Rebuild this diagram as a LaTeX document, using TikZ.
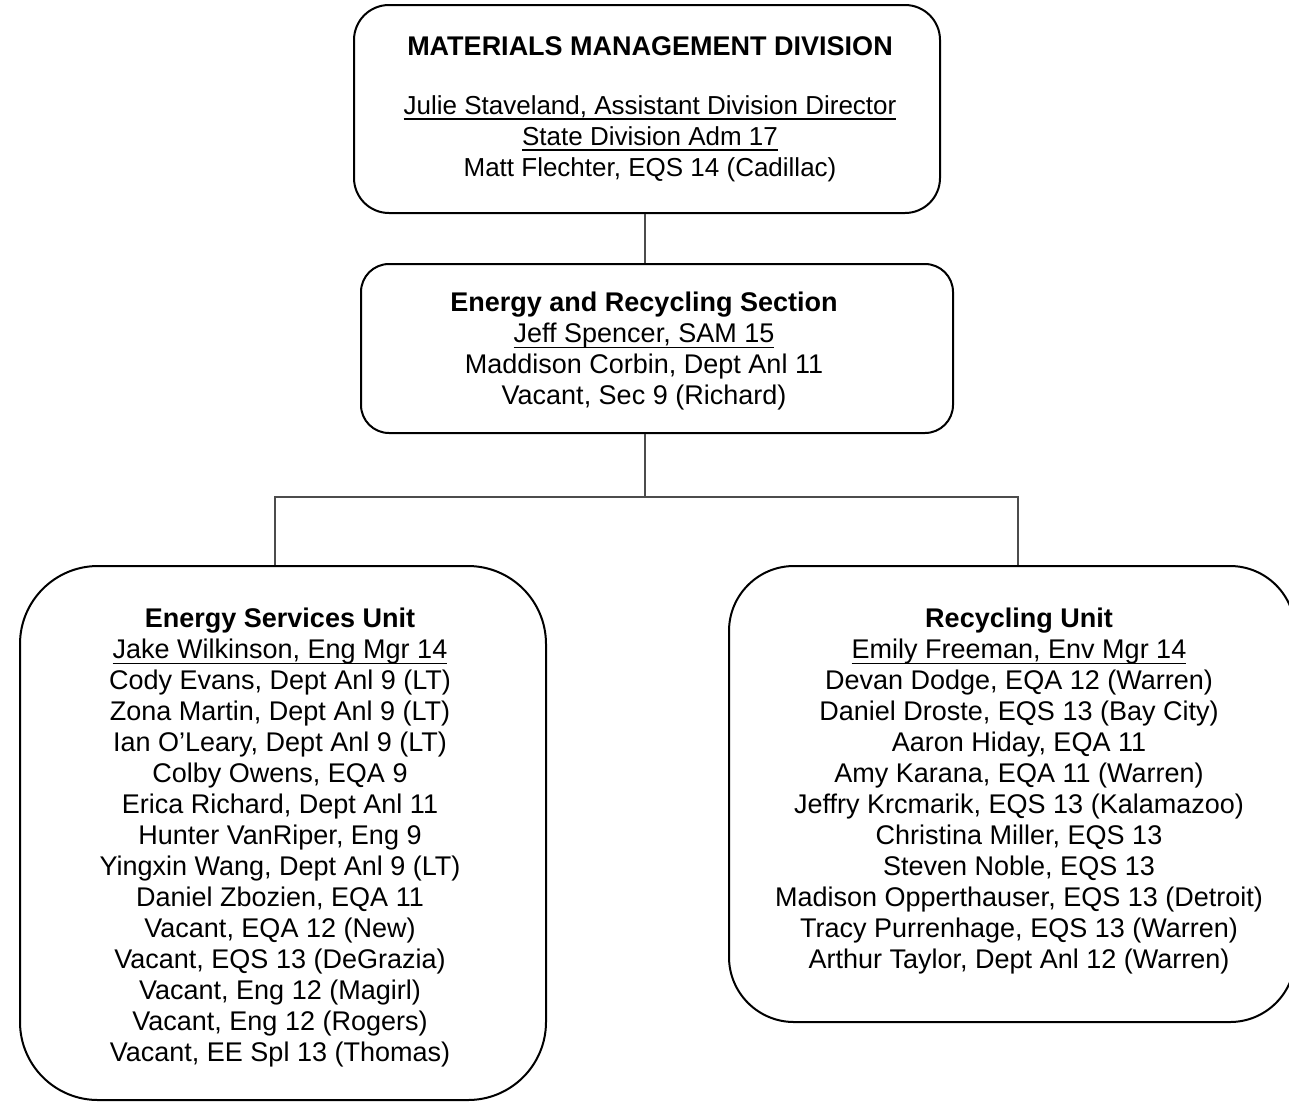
\documentclass[tikz,border=0pt]{standalone}
\usepackage{fontspec}
\setmainfont{Liberation Sans}
\newsavebox\ubox
\newcommand{\uname}[1]{\sbox\ubox{#1}\rlap{\rule[-5.5pt]{\wd\ubox}{1.6pt}}\usebox\ubox}

\begin{document}
\begin{tikzpicture}[x=1pt,y=-1pt,
  box/.style={draw,line width=2pt,rounded corners=#1,inner sep=0pt},
  staff/.style={align=center,anchor=north,inner sep=0pt,font=\fontsize{27}{31}\selectfont},
  link/.style={draw=black!70,line width=1.5pt}]
\useasboundingbox (0,0) rectangle (1289,1101);
% boxes
\node [box=35pt,minimum width=586pt,minimum height=208pt] (mmd) at (647,109) {};
\node [box=28pt,minimum width=592pt,minimum height=169pt] (ers) at (657,348.5) {};
\node [box=78pt,minimum width=526pt,minimum height=534pt] (esu) at (283,833) {};
\node [box=65pt,minimum width=566pt,minimum height=456pt] (ru) at (1012,794) {};
% texts
\node [staff,font=\fontsize{26}{31}\selectfont] (mmdtext) at (650,36) {\textbf{\fontsize{27}{31}\selectfont MATERIALS MANAGEMENT DIVISION}\\[28pt]
  \uname{Julie Staveland, Assistant Division Director}\\
  \uname{State Division Adm 17}\\
  Matt Flechter, EQS 14 (Cadillac)};
\node [staff] (erstext) at (644,292) {\textbf{Energy and Recycling Section}\\
  \uname{Jeff Spencer, SAM 15}\\
  Maddison Corbin, Dept Anl 11\\
  Vacant, Sec 9 (Richard)};
\node [staff] (esutext) at (280,608) {\textbf{Energy Services Unit}\\
  \uname{Jake Wilkinson, Eng Mgr 14}\\
  Cody Evans, Dept Anl 9 (LT)\\
  Zona Martin, Dept Anl 9 (LT)\\
  Ian O’Leary, Dept Anl 9 (LT)\\
  Colby Owens, EQA 9\\
  Erica Richard, Dept Anl 11\\
  Hunter VanRiper, Eng 9\\
  Yingxin Wang, Dept Anl 9 (LT)\\
  Daniel Zbozien, EQA 11\\
  Vacant, EQA 12 (New)\\
  Vacant, EQS 13 (DeGrazia)\\
  Vacant, Eng 12 (Magirl)\\
  Vacant, Eng 12 (Rogers)\\
  Vacant, EE Spl 13 (Thomas)};
\node [staff] (rutext) at (1019,608) {\textbf{Recycling Unit}\\
  \uname{Emily Freeman, Env Mgr 14}\\
  Devan Dodge, EQA 12 (Warren)\\
  Daniel Droste, EQS 13 (Bay City)\\
  Aaron Hiday, EQA 11\\
  Amy Karana, EQA 11 (Warren)\\
  Jeffry Krcmarik, EQS 13 (Kalamazoo)\\
  Christina Miller, EQS 13\\
  Steven Noble, EQS 13\\
  Madison Opperthauser, EQS 13 (Detroit)\\
  Tracy Purrenhage, EQS 13 (Warren)\\
  Arthur Taylor, Dept Anl 12 (Warren)};
% connectors
\coordinate (bar) at (645,497);
\coordinate (barL) at (275,497);
\coordinate (barR) at (1018,497);
\draw [link] (mmd.south -| bar) -- (bar |- ers.north);
\draw [link] (ers.south -| bar) -- (bar);
\draw [link] (barL |- esu.north) -- (barL) -- (barR) -- (barR |- ru.north);
\end{tikzpicture}
\end{document}
